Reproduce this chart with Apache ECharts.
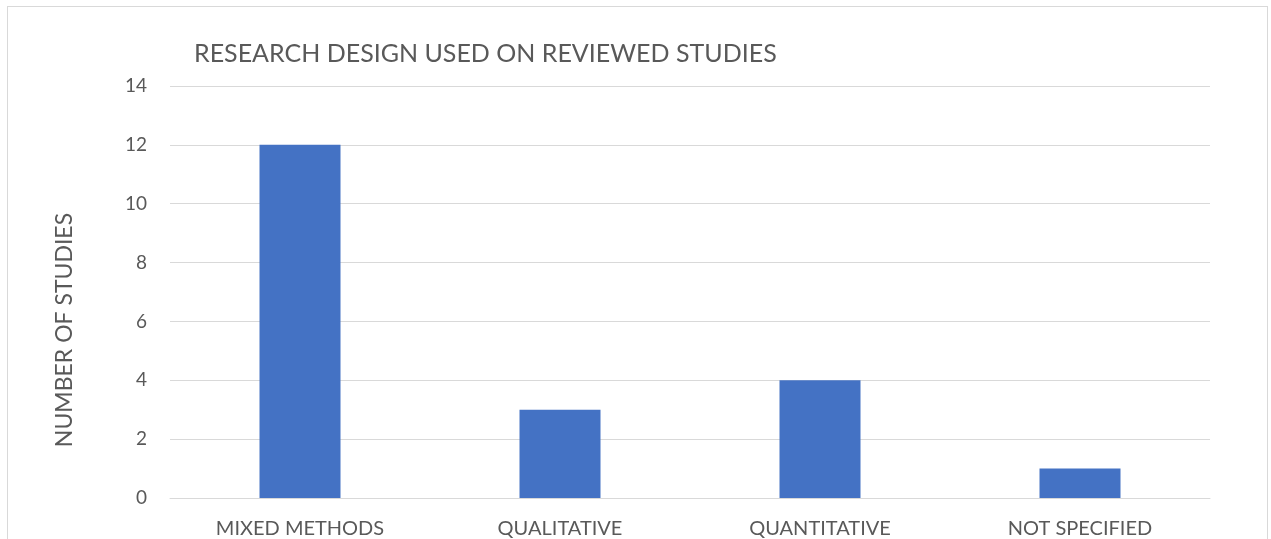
<!DOCTYPE html>
<html>
<head>
<meta charset="utf-8">
<script src="https://cdn.jsdelivr.net/npm/echarts@6/dist/echarts.min.js"></script>
<style>
  html, body { margin: 0; padding: 0; background: #fff; overflow: hidden; width: 1271px; height: 539px; }
  #frame { position: absolute; left: 7px; top: 6px; width: 1261px; height: 540px; border: 1px solid #d9d9d9; border-bottom: none; box-sizing: border-box; }
  #chart { position: absolute; left: 0; top: 0; width: 1271px; height: 539px; }
</style>
</head>
<body>
<div id="frame"></div>
<div id="chart"></div>
<script>
// Research designs of the reviewed studies
const titleText = 'RESEARCH DESIGN USED ON REVIEWED STUDIES';
const yAxisName = 'NUMBER OF STUDIES';
const categories = ['MIXED METHODS', 'QUALITATIVE', 'QUANTITATIVE', 'NOT SPECIFIED'];
const studyCounts = [12, 3, 4, 1];

const font = 'Lato, "Open Sans", sans-serif';
const textColor = '#595959';

const chart = echarts.init(document.getElementById('chart'), null, { renderer: 'canvas' });
chart.setOption({
  animation: false,
  title: {
    text: titleText,
    left: 189,
    top: 36,
    textStyle: { fontFamily: font, fontSize: 25, fontWeight: 'normal', color: textColor }
  },
  grid: { left: 170, right: 61, top: 86, bottom: 38, containLabel: false },
  xAxis: {
    type: 'category',
    data: categories,
    axisLine: { show: true, lineStyle: { color: '#d9d9d9', width: 1 } },
    axisTick: { show: false },
    axisLabel: { fontFamily: font, fontSize: 20, color: textColor, margin: 21 }
  },
  yAxis: {
    type: 'value',
    min: 0,
    max: 14,
    interval: 2,
    name: yAxisName,
    nameLocation: 'middle',
    nameGap: 94,
    nameTextStyle: { fontFamily: font, fontSize: 23, color: textColor, padding: [0, 76, 0, 0] },
    axisLine: { show: false },
    axisTick: { show: false },
    axisLabel: { fontFamily: font, fontSize: 19, color: textColor, margin: 23 },
    splitLine: { lineStyle: { color: '#d9d9d9', width: 1 } }
  },
  series: [{
    type: 'bar',
    data: studyCounts,
    barWidth: 81,
    itemStyle: { color: '#4472c4' }
  }]
});
</script>
</body>
</html>
